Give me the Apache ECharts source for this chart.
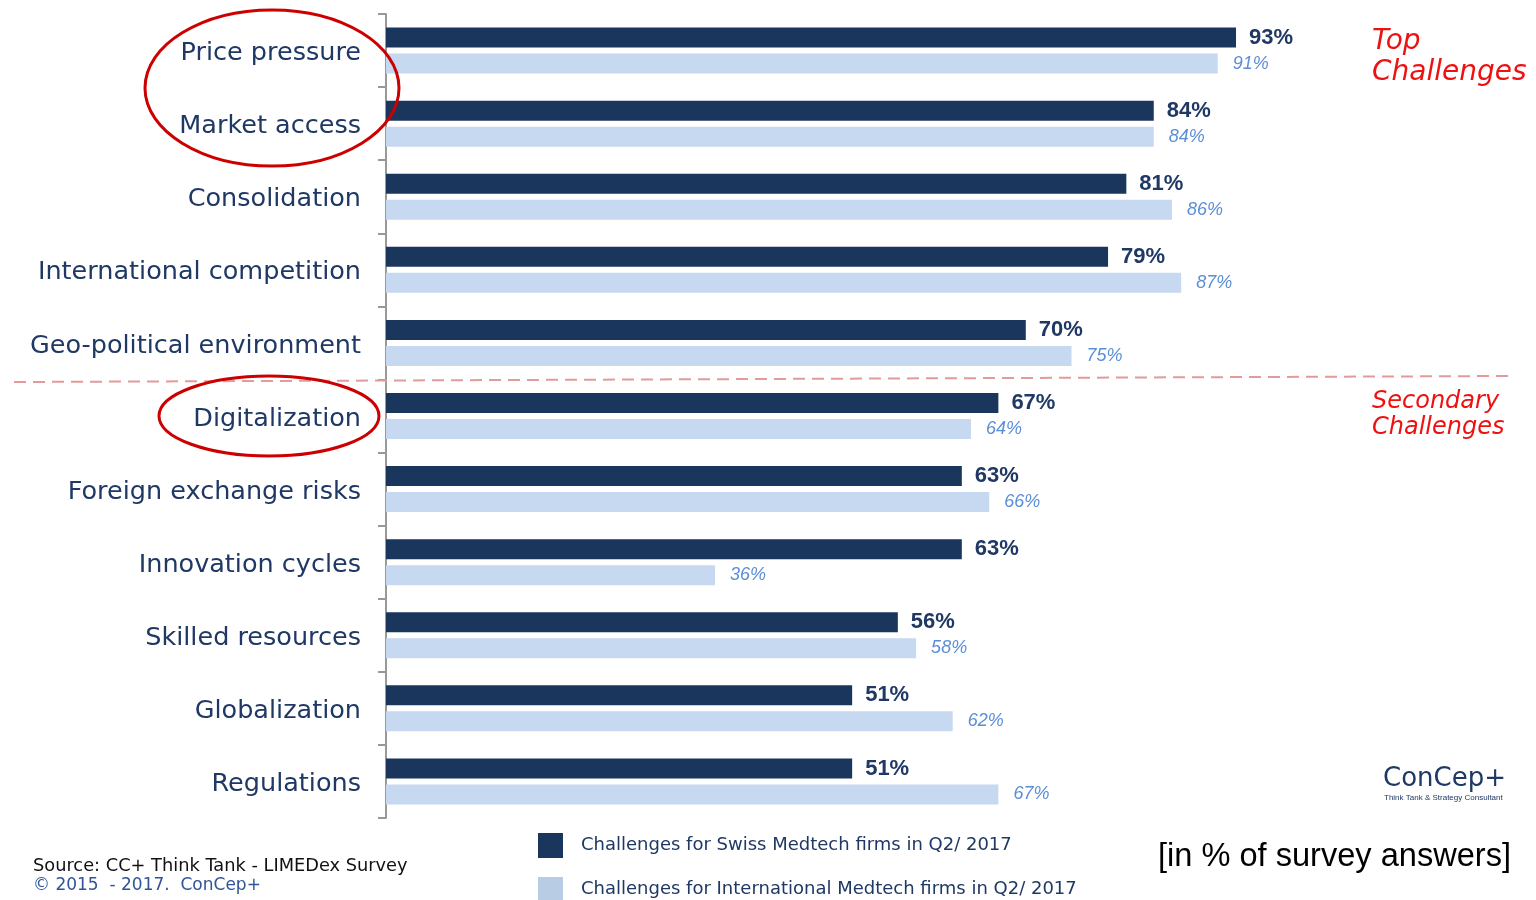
<!DOCTYPE html>
<html>
<head>
<meta charset="utf-8">
<script src="https://cdn.jsdelivr.net/npm/echarts@6/dist/echarts.min.js"></script>
<style>html,body{margin:0;padding:0;background:#fff}#c{width:1536px;height:900px}</style>
</head>
<body>
<div id="c"></div>
<script>
const categories = ["Price pressure","Market access","Consolidation","International competition","Geo-political environment","Digitalization","Foreign exchange risks","Innovation cycles","Skilled resources","Globalization","Regulations"];
const swiss = [93,84,81,79,70,67,63,63,56,51,51];
const international = [91,84,86,87,75,64,66,36,58,62,67];
const seriesNames = ["Challenges for Swiss Medtech firms in Q2/ 2017","Challenges for International Medtech firms in Q2/ 2017"];

const chart = echarts.init(document.getElementById('c'));
const navy = '#1b365d';
const light = '#c6d9f0';
const textNavy = '#1f3864';
const red = '#ee1111';

const legendBase = {
  orient: 'vertical', left: 538, padding: 0, itemWidth: 25, itemHeight: 25, icon: 'rect',
  textStyle: {fontFamily: 'DejaVu Sans', fontSize: 18, color: textNavy, padding: [0,0,3,13]}
};

chart.setOption({
  animation: false,
  grid: {left: 386, top: 14, width: 914, height: 804},
  xAxis: {type: 'value', min: 0, max: 100, show: false},
  yAxis: {
    type: 'category', data: categories, inverse: true,
    axisLine: {show: true, lineStyle: {color: '#999999', width: 2}},
    axisTick: {show: true, length: 8, lineStyle: {color: '#999999', width: 2}},
    axisLabel: {
      margin: 25,
      formatter: function (v) { return '{a|' + v + '}'; },
      rich: {a: {fontFamily: 'DejaVu Sans', fontSize: 25.5, color: textNavy, padding: [6, 0, 0, 0]}}
    }
  },
  legend: [
    Object.assign({}, legendBase, {top: 833, data: [{name: seriesNames[0], itemStyle: {color: navy}}]}),
    Object.assign({}, legendBase, {top: 877, data: [{name: seriesNames[1], itemStyle: {color: '#b8cce4'}}]})
  ],
  series: [
    {name: seriesNames[0], type: 'bar', data: swiss, barWidth: 20, barGap: '30%',
     itemStyle: {color: navy},
     label: {show: true, position: 'right', distance: 13, formatter: '{c}%', fontFamily: 'Liberation Sans', fontWeight: 'bold', fontSize: 22, color: textNavy, padding: [3,0,0,0]}},
    {name: seriesNames[1], type: 'bar', data: international, barWidth: 20, barGap: '30%',
     itemStyle: {color: light},
     label: {show: true, position: 'right', distance: 15, formatter: '{c}%', fontFamily: 'Liberation Sans', fontStyle: 'italic', fontSize: 18, color: '#5b8ed6', padding: [2,0,0,0]}}
  ],
  graphic: [
    {type: 'line', shape: {x1: 14, y1: 382, x2: 1508, y2: 376}, style: {stroke: '#e29a9a', lineWidth: 2, lineDash: [12, 7]}, z: 100},
    {type: 'ellipse', shape: {cx: 272, cy: 88, rx: 127, ry: 78}, style: {fill: 'none', stroke: '#cc0000', lineWidth: 3}, z: 100},
    {type: 'ellipse', shape: {cx: 269, cy: 416, rx: 110, ry: 40}, style: {fill: 'none', stroke: '#cc0000', lineWidth: 3}, z: 100},
    {type: 'text', left: 1372, top: 26, style: {text: 'Top\nChallenges', fill: red, font: 'italic 28px "DejaVu Sans"', lineHeight: 31}},
    {type: 'text', left: 1372, top: 389, style: {text: 'Secondary\nChallenges', fill: red, font: 'italic 24px "DejaVu Sans"', lineHeight: 26}},
    {type: 'text', left: 1383, top: 766, style: {text: 'ConCep+', fill: '#1f3864', font: '26px "DejaVu Sans"'}},
    {type: 'text', left: 1384, top: 794, style: {text: 'Think Tank & Strategy Consultant', fill: '#1f3864', font: '8px "Liberation Sans"'}},
    {type: 'text', left: 1158, top: 841, style: {text: '[in % of survey answers]', fill: '#000', font: '32.6px "Liberation Sans"'}},
    {type: 'text', left: 33, top: 857, style: {text: 'Source: CC+ Think Tank - LIMEDex Survey', fill: '#111', font: '17.8px "DejaVu Sans"'}},
    {type: 'text', left: 33, top: 877, style: {text: '\u00a9 2015  - 2017.  ConCep+', fill: '#2f5597', font: '17px "DejaVu Sans"'}}
  ]
});
</script>
</body>
</html>
